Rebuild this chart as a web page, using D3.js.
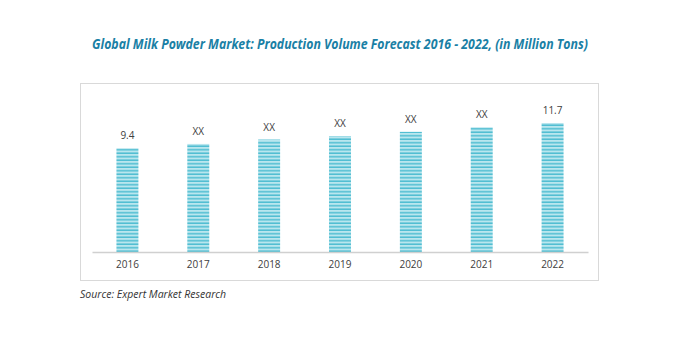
<!DOCTYPE html>
<html><head><meta charset="utf-8">
<script src="https://cdn.jsdelivr.net/npm/d3@7/dist/d3.min.js"></script>
<style>body{margin:0;background:#fff;}svg{display:block;}</style>
</head><body>
<svg id="c" width="674" height="342"></svg>
<script>
const years = ["2016","2017","2018","2019","2020","2021","2022"];
const values = [9.4, 9.8, 10.2, 10.5, 10.9, 11.3, 11.7];
const labels = ["9.4","XX","XX","XX","XX","XX","11.7"];
const title = "Global Milk Powder Market: Production Volume Forecast 2016 - 2022, (in Million Tons)";
const source = "Source: Expert Market Research";

const svg = d3.select("#c");
const defs = svg.append("defs");
const pat = defs.append("pattern").attr("id","stripe").attr("patternUnits","userSpaceOnUse")
  .attr("width",4).attr("height",3.5);
pat.append("rect").attr("width",4).attr("height",3.5).attr("fill","#b9e6ee");
pat.append("rect").attr("y",2).attr("width",4).attr("height",1.5).attr("fill","#4fbdd1");

svg.append("text").attr("x",340).attr("y",49).attr("text-anchor","middle")
  .attr("font-family","Open Sans, sans-serif").attr("font-weight","bold").attr("font-style","italic")
  .attr("font-size",13.5).attr("fill","#1a80a5").attr("textLength",496).attr("lengthAdjust","spacingAndGlyphs")
  .text(title);

svg.append("rect").attr("x",80.5).attr("y",83.5).attr("width",518).attr("height",197)
  .attr("fill","#fff").attr("stroke","#d9d9d9");

const x = d3.scaleBand().domain(years).range([92,588]).paddingInner(0.69).paddingOuter(0.345);
const y = d3.scaleLinear().domain([0,11.7]).range([252,123]);

const g = svg.append("g");
g.selectAll("rect.bar").data(years).join("rect").attr("class","bar")
  .attr("x",d=>x(d)).attr("width",x.bandwidth())
  .attr("y",(d,i)=>y(values[i])).attr("height",(d,i)=>252-y(values[i]))
  .attr("fill","url(#stripe)");
g.selectAll("text.val").data(years).join("text").attr("class","val")
  .attr("x",d=>x(d)+x.bandwidth()/2).attr("y",(d,i)=>y(values[i])-9)
  .attr("text-anchor","middle").attr("font-family","Open Sans, sans-serif").attr("font-size",10)
  .attr("fill","#404040").text((d,i)=>labels[i]);

const ax = svg.append("g").attr("transform","translate(0,252)")
  .call(d3.axisBottom(x).tickSize(0).tickPadding(9));
ax.select(".domain").attr("stroke","#d0d0d0").attr("stroke-width",1.5);
ax.selectAll("text").attr("font-family","Open Sans, sans-serif").attr("font-size",10).attr("fill","#404040");

svg.append("text").attr("x",80).attr("y",298).attr("font-family","Open Sans, sans-serif")
  .attr("font-style","italic").attr("font-size",10.5).attr("fill","#333").text(source);
</script>
</body></html>
